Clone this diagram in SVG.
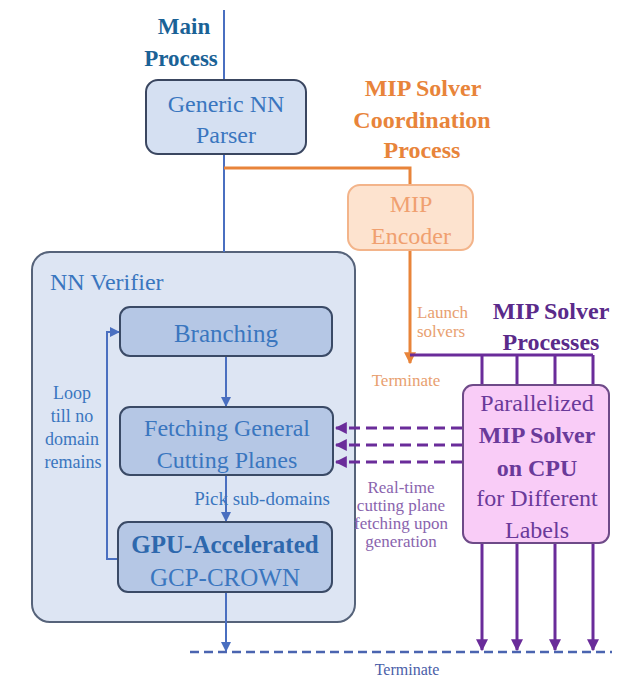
<svg xmlns="http://www.w3.org/2000/svg" width="623" height="679" viewBox="0 0 623 679" font-family="'Liberation Serif', 'DejaVu Serif', serif">
<style>
text{font-family:'Liberation Serif','DejaVu Serif',serif;dominant-baseline:central;text-anchor:middle}
.bt{font-size:24px;fill:#3a76bf}
.bl{fill:none;stroke:#4a6fc0;stroke-width:2}
.or{fill:none;stroke:#e8843a;stroke-width:3}
.pu{fill:none;stroke:#6a2c9a;stroke-width:3}
.pd{fill:none;stroke:#6a2c9a;stroke-width:3;stroke-dasharray:11 6}
.bd{fill:none;stroke:#4a64b0;stroke-width:2.5;stroke-dasharray:9 5}
</style>
<defs>
<marker id="ab" viewBox="0 0 10 10" refX="9" refY="5" markerWidth="5" markerHeight="5" orient="auto-start-reverse"><path d="M0,0L10,5L0,10z" fill="#4a6fc0"/></marker>
<marker id="ao" viewBox="0 0 10 10" refX="9" refY="5" markerWidth="4" markerHeight="4" orient="auto"><path d="M0,0L10,5L0,10z" fill="#e8843a"/></marker>
<marker id="ap" viewBox="0 0 10 10" refX="9" refY="5" markerWidth="4" markerHeight="4" orient="auto"><path d="M0,0L10,5L0,10z" fill="#6a2c9a"/></marker>
</defs>

<g id="nn-verifier">
<rect x="32" y="252" width="323" height="370" rx="18" fill="#dde5f3" stroke="#56637a" stroke-width="2"/>
<text x="50" y="282" style="text-anchor:start;font-size:24px;fill:#3a76bf">NN Verifier</text>
</g>

<g id="connectors">
<line class="bl" x1="224" y1="10" x2="224" y2="80"/>
<line class="bl" x1="224" y1="154" x2="224" y2="252"/>
<path class="or" d="M224,168H410V185"/>
<path class="or" d="M410,250V363" marker-end="url(#ao)"/>
<path class="pu" d="M410,355H593M482,355V385M517,355V385M555,355V385M593,355V385"/>
<line class="bl" x1="226" y1="356" x2="226" y2="406" marker-end="url(#ab)"/>
<line class="bl" x1="226" y1="475" x2="226" y2="521" marker-end="url(#ab)"/>
<line class="bl" x1="226" y1="592" x2="226" y2="651" marker-end="url(#ab)"/>
<path class="bl" d="M118,559H107V332H119" marker-end="url(#ab)"/>
<line class="pd" x1="462" y1="428" x2="336" y2="428" marker-end="url(#ap)"/>
<line class="pd" x1="462" y1="445" x2="336" y2="445" marker-end="url(#ap)"/>
<line class="pd" x1="462" y1="462" x2="336" y2="462" marker-end="url(#ap)"/>
<line class="pu" x1="482" y1="543" x2="482" y2="650" marker-end="url(#ap)"/>
<line class="pu" x1="517" y1="543" x2="517" y2="650" marker-end="url(#ap)"/>
<line class="pu" x1="555" y1="543" x2="555" y2="650" marker-end="url(#ap)"/>
<line class="pu" x1="593" y1="543" x2="593" y2="650" marker-end="url(#ap)"/>
<line class="bd" x1="190" y1="652" x2="612" y2="652"/>
</g>

<g id="labels">
<text x="184" y="26" style="font-size:23px;font-weight:bold;fill:#1a6296">Main</text>
<text x="181" y="58" style="font-size:23px;font-weight:bold;fill:#1a6296">Process</text>
<text x="423" y="88" style="font-size:24px;font-weight:bold;fill:#e8843a">MIP Solver</text>
<text x="422" y="120" style="font-size:24px;font-weight:bold;fill:#e8843a">Coordination</text>
<text x="422" y="150" style="font-size:24px;font-weight:bold;fill:#e8843a">Process</text>
<text x="417" y="312" style="text-anchor:start;font-size:17px;fill:#e8a070">Launch</text>
<text x="417" y="331" style="text-anchor:start;font-size:17px;fill:#e8a070">solvers</text>
<text x="406" y="380" style="font-size:17px;fill:#e8a070">Terminate</text>
<text x="551" y="311" style="font-size:24px;font-weight:bold;fill:#5a2a8a">MIP Solver</text>
<text x="551" y="342" style="font-size:24px;font-weight:bold;fill:#5a2a8a">Processes</text>
<text x="72" y="393" style="font-size:18px;fill:#3a76bf">Loop</text>
<text x="72" y="416" style="font-size:18px;fill:#3a76bf">till no</text>
<text x="72" y="439" style="font-size:18px;fill:#3a76bf">domain</text>
<text x="73" y="462" style="font-size:18px;fill:#3a76bf">remains</text>
<text x="262" y="498" style="font-size:19px;fill:#3a76bf">Pick sub-domains</text>
<text x="401" y="487" style="font-size:17px;fill:#8a64ae">Real-time</text>
<text x="401" y="505" style="font-size:17px;fill:#8a64ae">cutting plane</text>
<text x="401" y="523" style="font-size:17px;fill:#8a64ae">fetching upon</text>
<text x="401" y="541" style="font-size:17px;fill:#8a64ae">generation</text>
<text x="407" y="669" style="font-size:16px;fill:#4a60a8">Terminate</text>
</g>

<g id="generic-nn-parser">
<rect x="146" y="80" width="160" height="74" rx="12" fill="#d5e0f2" stroke="#3a4660" stroke-width="2"/>
<text class="bt" x="226" y="104">Generic NN</text>
<text class="bt" x="226" y="135">Parser</text>
</g>

<g id="mip-encoder">
<rect x="348" y="185" width="125" height="65" rx="12" fill="#fde3cf" stroke="#f3b48a" stroke-width="2"/>
<text x="411" y="204" style="font-size:24px;fill:#f0a070">MIP</text>
<text x="411" y="236" style="font-size:24px;fill:#f0a070">Encoder</text>
</g>

<g id="branching">
<rect x="120" y="307" width="212" height="49" rx="10" fill="#b5c7e5" stroke="#3a4a66" stroke-width="2"/>
<text class="bt" x="226" y="333" style="font-size:25px">Branching</text>
</g>

<g id="fetching">
<rect x="120" y="407" width="213" height="68" rx="10" fill="#b5c7e5" stroke="#3a4a66" stroke-width="2"/>
<text class="bt" x="227" y="428">Fetching General</text>
<text class="bt" x="227" y="460">Cutting Planes</text>
</g>

<g id="gpu-crown">
<rect x="118" y="522" width="214" height="70" rx="10" fill="#b5c7e5" stroke="#3a4a66" stroke-width="2"/>
<text class="bt" x="225" y="544" style="font-size:25px;font-weight:bold;fill:#2e68ad">GPU-Accelerated</text>
<text class="bt" x="225" y="577" style="font-size:25px">GCP-CROWN</text>
</g>

<g id="mip-solver">
<rect x="463" y="385" width="146" height="158" rx="10" fill="#f9ccf7" stroke="#6e4a88" stroke-width="2"/>
<text x="537" y="403" style="font-size:24px;fill:#6a3a9a">Parallelized</text>
<text x="537" y="435" style="font-size:24px;font-weight:bold;fill:#6a3a9a">MIP Solver</text>
<text x="537" y="468" style="font-size:24px;font-weight:bold;fill:#6a3a9a">on CPU</text>
<text x="537" y="498" style="font-size:24px;fill:#6a3a9a">for Different</text>
<text x="537" y="530" style="font-size:24px;fill:#6a3a9a">Labels</text>
</g>
</svg>
